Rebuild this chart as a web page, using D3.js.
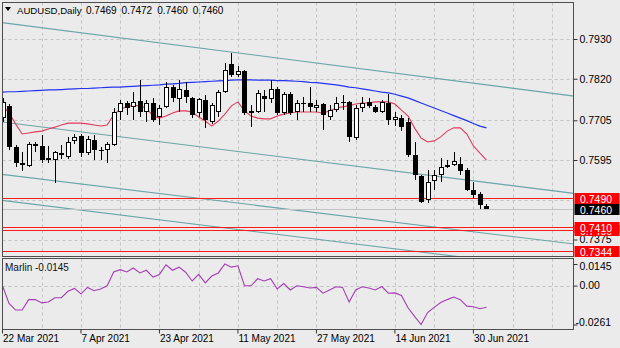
<!DOCTYPE html>
<html>
<head>
<meta charset="utf-8">
<script src="https://cdn.jsdelivr.net/npm/d3@7"></script>
<style>
  html, body { margin: 0; padding: 0; background: #ebebeb; }
  svg { display: block; font-family: "Liberation Sans", Arial, sans-serif; }
</style>
</head>
<body>
<svg id="chart" width="620" height="348"></svg>
<script>
// ---- AUDUSD daily bars, 22 Mar 2021 .. 2 Jul 2021 ----
const symbolTitle = "AUDUSD,Daily";
const dateLabels = ["22 Mar 2021", "7 Apr 2021", "23 Apr 2021", "11 May 2021", "27 May 2021", "14 Jun 2021", "30 Jun 2021"];
const dateLabelBars = [0, 12, 24, 36, 48, 60, 72];

const open = [
  0.7711, 0.7744, 0.7631, 0.7587, 0.7578, 0.7639, 0.7634, 0.7600, 0.7595, 0.7614,
  0.7603, 0.7647, 0.7661, 0.7614, 0.7650, 0.7623, 0.7623, 0.7636, 0.7728, 0.7753,
  0.7742, 0.7758, 0.7728, 0.7753, 0.7714, 0.7742, 0.7797, 0.7764, 0.7789, 0.7767,
  0.7725, 0.7761, 0.7700, 0.7728, 0.7783, 0.7861, 0.7830, 0.7841, 0.7731, 0.7728,
  0.7772, 0.7764, 0.7792, 0.7725, 0.7778, 0.7728, 0.7753, 0.7753, 0.7739, 0.7750,
  0.7714, 0.7733, 0.7753, 0.7756, 0.7656, 0.7739, 0.7756, 0.7742, 0.7728, 0.7753,
  0.7706, 0.7711, 0.7700, 0.7609, 0.7551, 0.7484, 0.7537, 0.7553, 0.7575, 0.7581,
  0.7584, 0.7567, 0.7512, 0.7501, 0.7469
];
const high = [
  0.7767, 0.7750, 0.7636, 0.7617, 0.7645, 0.7645, 0.7664, 0.7634, 0.7620, 0.7636,
  0.7659, 0.7667, 0.7667, 0.7661, 0.7664, 0.7631, 0.7645, 0.7739, 0.7761, 0.7758,
  0.7783, 0.7816, 0.7761, 0.7767, 0.7747, 0.7811, 0.7803, 0.7816, 0.7811, 0.7770,
  0.7767, 0.7775, 0.7753, 0.7789, 0.7864, 0.7891, 0.7855, 0.7844, 0.7747, 0.7789,
  0.7789, 0.7816, 0.7797, 0.7783, 0.7783, 0.7761, 0.7770, 0.7797, 0.7761, 0.7753,
  0.7747, 0.7770, 0.7775, 0.7758, 0.7747, 0.7770, 0.7767, 0.7747, 0.7761, 0.7778,
  0.7728, 0.7719, 0.7711, 0.7645, 0.7553, 0.7567, 0.7567, 0.7600, 0.7595, 0.7617,
  0.7603, 0.7573, 0.7534, 0.7506, 0.7472
];
const low = [
  0.7700, 0.7623, 0.7575, 0.7564, 0.7575, 0.7617, 0.7587, 0.7587, 0.7531, 0.7598,
  0.7598, 0.7639, 0.7603, 0.7609, 0.7595, 0.7595, 0.7587, 0.7634, 0.7706, 0.7719,
  0.7706, 0.7714, 0.7700, 0.7700, 0.7692, 0.7739, 0.7756, 0.7728, 0.7753, 0.7711,
  0.7714, 0.7684, 0.7695, 0.7714, 0.7780, 0.7825, 0.7825, 0.7719, 0.7686, 0.7725,
  0.7728, 0.7753, 0.7719, 0.7719, 0.7719, 0.7706, 0.7728, 0.7728, 0.7728, 0.7678,
  0.7706, 0.7728, 0.7733, 0.7645, 0.7650, 0.7728, 0.7739, 0.7725, 0.7725, 0.7692,
  0.7689, 0.7675, 0.7603, 0.7539, 0.7476, 0.7476, 0.7512, 0.7534, 0.7573, 0.7578,
  0.7553, 0.7509, 0.7490, 0.7459, 0.7460
];
const close = [
  0.7756, 0.7631, 0.7587, 0.7581, 0.7639, 0.7634, 0.7595, 0.7595, 0.7617, 0.7609,
  0.7645, 0.7659, 0.7614, 0.7653, 0.7623, 0.7620, 0.7639, 0.7728, 0.7753, 0.7739,
  0.7756, 0.7728, 0.7753, 0.7706, 0.7739, 0.7797, 0.7767, 0.7792, 0.7769, 0.7719,
  0.7764, 0.7706, 0.7747, 0.7783, 0.7844, 0.7830, 0.7841, 0.7725, 0.7725, 0.7780,
  0.7764, 0.7792, 0.7725, 0.7778, 0.7725, 0.7753, 0.7750, 0.7742, 0.7747, 0.7719,
  0.7733, 0.7753, 0.7756, 0.7659, 0.7739, 0.7753, 0.7744, 0.7728, 0.7756, 0.7706,
  0.7714, 0.7686, 0.7609, 0.7553, 0.7479, 0.7534, 0.7553, 0.7575, 0.7581, 0.7592,
  0.7564, 0.7512, 0.7498, 0.7470, 0.7460
];

// fast (red) and slow (blue) moving averages
const maFast = [
  0.7747, 0.7725, 0.7695, 0.7667, 0.7670, 0.7673, 0.7675, 0.7681, 0.7686, 0.7692,
  0.7697, 0.7697, 0.7697, 0.7695, 0.7692, 0.7689, 0.7692, 0.7720, 0.7736, 0.7742,
  0.7747, 0.7745, 0.7739, 0.7717, 0.7711, 0.7717, 0.7725, 0.7731, 0.7731, 0.7728,
  0.7714, 0.7703, 0.7689, 0.7703, 0.7722, 0.7745, 0.7756, 0.7731, 0.7717, 0.7711,
  0.7709, 0.7709, 0.7717, 0.7722, 0.7725, 0.7728, 0.7728, 0.7728, 0.7728, 0.7725,
  0.7731, 0.7739, 0.7742, 0.7745, 0.7750, 0.7753, 0.7753, 0.7756, 0.7756, 0.7756,
  0.7750, 0.7733, 0.7717, 0.7684, 0.7656, 0.7645, 0.7648, 0.7659, 0.7675, 0.7684,
  0.7684, 0.7667, 0.7634, 0.7614, 0.7595
];
const maSlow = [
  0.7783, 0.7784, 0.7784, 0.7785, 0.7786, 0.7787, 0.7788, 0.7789, 0.7789, 0.7790,
  0.7791, 0.7792, 0.7793, 0.7793, 0.7794, 0.7795, 0.7796, 0.7797, 0.7797, 0.7798,
  0.7799, 0.7800, 0.7801, 0.7802, 0.7803, 0.7805, 0.7806, 0.7807, 0.7809, 0.7810,
  0.7811, 0.7812, 0.7813, 0.7814, 0.7815, 0.7816, 0.7817, 0.7817, 0.7817, 0.7816,
  0.7816, 0.7816, 0.7815, 0.7815, 0.7814, 0.7813, 0.7812, 0.7810, 0.7809, 0.7807,
  0.7805, 0.7803, 0.7800, 0.7797, 0.7795, 0.7792, 0.7789, 0.7786, 0.7783, 0.7781,
  0.7777, 0.7772, 0.7767, 0.7760, 0.7753, 0.7746, 0.7739, 0.7732, 0.7725, 0.7718,
  0.7711, 0.7704, 0.7696, 0.7689, 0.7684
];

// Marlin oscillator
const marlin = [
  -0.0001, -0.0120, -0.0164, -0.0164, -0.0094, -0.0094, -0.0116, -0.0110, -0.0081, -0.0081,
  -0.0038, -0.0019, -0.0055, -0.0012, -0.0034, -0.0023, -0.0001, 0.0092, 0.0107, 0.0092,
  0.0118, 0.0085, 0.0103, 0.0057, 0.0075, 0.0140, 0.0103, 0.0124, 0.0090, 0.0031,
  0.0075, 0.0018, 0.0064, 0.0085, 0.0145, 0.0124, 0.0133, -0.0001, -0.0001, 0.0046,
  0.0031, 0.0046, -0.0023, 0.0014, -0.0029, -0.0001, -0.0008, -0.0016, -0.0012, -0.0051,
  -0.0029, -0.0008, -0.0012, -0.0110, -0.0029, -0.0008, -0.0016, -0.0029, -0.0006, -0.0051,
  -0.0049, -0.0066, -0.0149, -0.0207, -0.0261, -0.0181, -0.0146, -0.0114, -0.0094, -0.0077,
  -0.0094, -0.0138, -0.0142, -0.0155, -0.0145
];

// price scale: grid levels and the labels printed on the scale
const priceGrid = [0.7930, 0.7820, 0.7705, 0.7595, 0.7485, 0.7375];
const priceTicks = [0.7930, 0.7820, 0.7705, 0.7595, 0.7375];
const redLevels = [0.7400, 0.7410, 0.7490, 0.7344];
const bidPrice = 0.7460;
const marlinTicks = [0.0145, 0, -0.0261];
const marlinTickLabels = ["0.0145", "0.00", "-0.0261"];

// trend channel lines: [bar, price] anchor pairs
const channelStart = [[0, 0.7975], [0, 0.7700], [0, 0.7555], [0, 0.7483]];
const channelEnd   = [[74, 0.7803], [74, 0.7533], [74, 0.7392], [74, 0.7318]];

// ---------------------------------------------------------------
const svg = d3.select("#chart");
const fmt4 = v => v.toFixed(4);

const mainBox = { x0: 2.5, x1: 573.5, y0: 2.5, y1: 256.5 };
const subBox  = { x0: 2.5, x1: 573.5, y0: 258.5, y1: 329.5 };

const x = d3.scaleLinear().domain([0, 72]).range([2.5, 473.4]);
const y = d3.scaleLinear().domain([0.7344, 0.7930]).range([250.7, 39]);
const ym = d3.scaleLinear().domain([-0.0261, 0.0145]).range([324.5, 264]);

const defs = svg.append("defs");
defs.append("clipPath").attr("id", "clipMain").append("rect")
  .attr("x", mainBox.x0).attr("y", mainBox.y0)
  .attr("width", mainBox.x1 - mainBox.x0).attr("height", mainBox.y1 - mainBox.y0);
defs.append("clipPath").attr("id", "clipSub").append("rect")
  .attr("x", subBox.x0).attr("y", subBox.y0)
  .attr("width", subBox.x1 - subBox.x0).attr("height", subBox.y1 - subBox.y0);

const gridColor = "#c3c3c3";
const gridBars = d3.range(6, 90, 6);

// grid - main panel
const gMain = svg.append("g").attr("clip-path", "url(#clipMain)");
gMain.selectAll("line.vg").data(gridBars).join("line")
  .attr("x1", d => Math.round(x(d)) + 0.5).attr("x2", d => Math.round(x(d)) + 0.5)
  .attr("y1", mainBox.y0).attr("y2", mainBox.y1)
  .attr("stroke", gridColor).attr("stroke-dasharray", "3,3");
gMain.selectAll("line.hg").data(priceGrid).join("line")
  .attr("x1", mainBox.x0).attr("x2", mainBox.x1)
  .attr("y1", d => Math.round(y(d)) + 0.5).attr("y2", d => Math.round(y(d)) + 0.5)
  .attr("stroke", gridColor).attr("stroke-dasharray", "3,3");

// channel lines
const chanColor = "#68a4a8";
channelStart.forEach((s, k) => {
  const e = channelEnd[k];
  const slope = (e[1] - s[1]) / (e[0] - s[0]);
  const b0 = -2, b1 = 92;
  gMain.append("line")
    .attr("x1", x(b0)).attr("y1", y(s[1] + slope * (b0 - s[0])))
    .attr("x2", x(b1)).attr("y2", y(s[1] + slope * (b1 - s[0])))
    .attr("stroke", chanColor).attr("stroke-width", 1.1);
});

// bid line
gMain.append("line")
  .attr("x1", mainBox.x0).attr("x2", mainBox.x1)
  .attr("y1", Math.round(y(bidPrice)) + 0.5).attr("y2", Math.round(y(bidPrice)) + 0.5)
  .attr("stroke", "#c4c4c4");

// red horizontal levels
gMain.selectAll("line.lvl").data(redLevels).join("line")
  .attr("x1", mainBox.x0).attr("x2", mainBox.x1)
  .attr("y1", d => Math.round(y(d)) + 0.5).attr("y2", d => Math.round(y(d)) + 0.5)
  .attr("stroke", "#ff1a1a").attr("stroke-width", 1);

// moving averages
const bars = d3.range(open.length);
gMain.append("path").datum(bars)
  .attr("d", d3.line().x(i => x(i)).y(i => y(maSlow[i])))
  .attr("fill", "none").attr("stroke", "#2433f0").attr("stroke-width", 1.2);
gMain.append("path").datum(bars)
  .attr("d", d3.line().x(i => x(i)).y(i => y(maFast[i])))
  .attr("fill", "none").attr("stroke", "#e23a5e").attr("stroke-width", 1.1);

// candles
const candles = gMain.selectAll("g.c").data(bars).join("g");
candles.append("rect")
  .attr("x", i => Math.round(x(i)))
  .attr("width", 1)
  .attr("y", i => Math.round(y(high[i])))
  .attr("height", i => Math.max(1, Math.round(y(low[i])) - Math.round(y(high[i]))))
  .attr("fill", "#000");
candles.each(function (i) {
  const g = d3.select(this);
  const cx = Math.round(x(i));
  const top = Math.round(y(Math.max(open[i], close[i])));
  const bot = Math.round(y(Math.min(open[i], close[i])));
  const h = bot - top;
  if (close[i] >= open[i] && h >= 2) {
    g.append("rect").attr("x", cx - 1.5).attr("y", top + 0.5)
      .attr("width", 4).attr("height", h - 1)
      .attr("fill", "#fff").attr("stroke", "#000").attr("stroke-width", 1);
  } else {
    g.append("rect").attr("x", cx - 2).attr("y", top)
      .attr("width", 5).attr("height", Math.max(1, h))
      .attr("fill", "#000");
  }
});

// ---- Marlin sub-window ----
const gSub = svg.append("g").attr("clip-path", "url(#clipSub)");
gSub.selectAll("line.vg").data(gridBars).join("line")
  .attr("x1", d => Math.round(x(d)) + 0.5).attr("x2", d => Math.round(x(d)) + 0.5)
  .attr("y1", subBox.y0).attr("y2", subBox.y1)
  .attr("stroke", gridColor).attr("stroke-dasharray", "3,3");
gSub.append("line")
  .attr("x1", subBox.x0).attr("x2", subBox.x1)
  .attr("y1", Math.round(ym(0)) + 0.5).attr("y2", Math.round(ym(0)) + 0.5)
  .attr("stroke", gridColor).attr("stroke-dasharray", "3,3");
gSub.append("path").datum(bars)
  .attr("d", d3.line().x(i => x(i)).y(i => ym(marlin[i])))
  .attr("fill", "none").attr("stroke", "#a53db5").attr("stroke-width", 1.1);

// frames
[mainBox, subBox].forEach(b => {
  svg.append("rect").attr("x", b.x0).attr("y", b.y0)
    .attr("width", b.x1 - b.x0).attr("height", b.y1 - b.y0)
    .attr("fill", "none").attr("stroke", "#4d4d4d").attr("stroke-width", 1);
});

// ---- axes ----
const priceAxis = svg.append("g")
  .attr("transform", `translate(${mainBox.x1},0)`)
  .call(d3.axisRight(y).tickValues(priceTicks).tickSize(4).tickPadding(2).tickFormat(fmt4));
priceAxis.select(".domain").remove();
priceAxis.selectAll("text").attr("font-size", 10.5).attr("fill", "#000")
  .attr("font-family", "Liberation Sans, Arial, sans-serif");
priceAxis.selectAll("line").attr("stroke", "#333");

const subAxis = svg.append("g")
  .attr("transform", `translate(${subBox.x1},0)`)
  .call(d3.axisRight(ym).tickValues(marlinTicks).tickSize(4).tickPadding(2)
    .tickFormat((d, k) => marlinTickLabels[k]));
subAxis.select(".domain").remove();
subAxis.selectAll("text").attr("font-size", 10.5).attr("fill", "#000")
  .attr("font-family", "Liberation Sans, Arial, sans-serif")
  .attr("x", d => d < 0 ? 2 : 6)
  .attr("y", d => d > 0 ? 2 : (d < 0 ? -2 : 0));
subAxis.selectAll("line").attr("stroke", "#333");

const dateAxis = svg.append("g")
  .attr("transform", `translate(0,${subBox.y1})`)
  .call(d3.axisBottom(x).tickValues(dateLabelBars).tickSize(4).tickPadding(1)
    .tickFormat((d, k) => dateLabels[k]));
dateAxis.select(".domain").remove();
dateAxis.selectAll(".tick line").attr("transform", "translate(-0.5,0)").attr("stroke", "#333");
dateAxis.selectAll("text").attr("font-size", 10).attr("fill", "#000")
  .attr("text-anchor", "start").attr("x", 0)
  .attr("font-family", "Liberation Sans, Arial, sans-serif");

// ---- price labels on the right scale ----
function priceTag(value, fill) {
  const cy = y(value);
  svg.append("rect").attr("x", 574.5).attr("y", Math.round(cy) - 5)
    .attr("width", 45).attr("height", 11).attr("fill", fill);
  svg.append("text").attr("x", 580).attr("y", Math.round(cy) + 0.5)
    .attr("dominant-baseline", "central").attr("font-size", 10.5)
    .attr("fill", "#fff").text(fmt4(value));
}
redLevels.forEach(v => priceTag(v, "#ff0000"));
priceTag(bidPrice, "#000000");

// ---- titles ----
svg.append("path").attr("d", "M5,7 L11,7 L8,11 Z").attr("fill", "#000");
svg.append("text").attr("x", 17).attr("y", 10).attr("dominant-baseline", "central")
  .attr("font-size", 9.6).attr("fill", "#000").text(symbolTitle);
const last = open.length - 1;
[open[last], high[last], low[last], close[last]].forEach((v, k) => {
  svg.append("text").attr("x", 86 + k * 35.6).attr("y", 10).attr("dominant-baseline", "central")
    .attr("font-size", 10).attr("fill", "#000").text(fmt4(v));
});
svg.append("text").attr("x", 5).attr("y", 267).attr("dominant-baseline", "central")
  .attr("font-size", 10).attr("fill", "#111").text("Marlin " + marlin[last].toFixed(4));
</script>
</body>
</html>
